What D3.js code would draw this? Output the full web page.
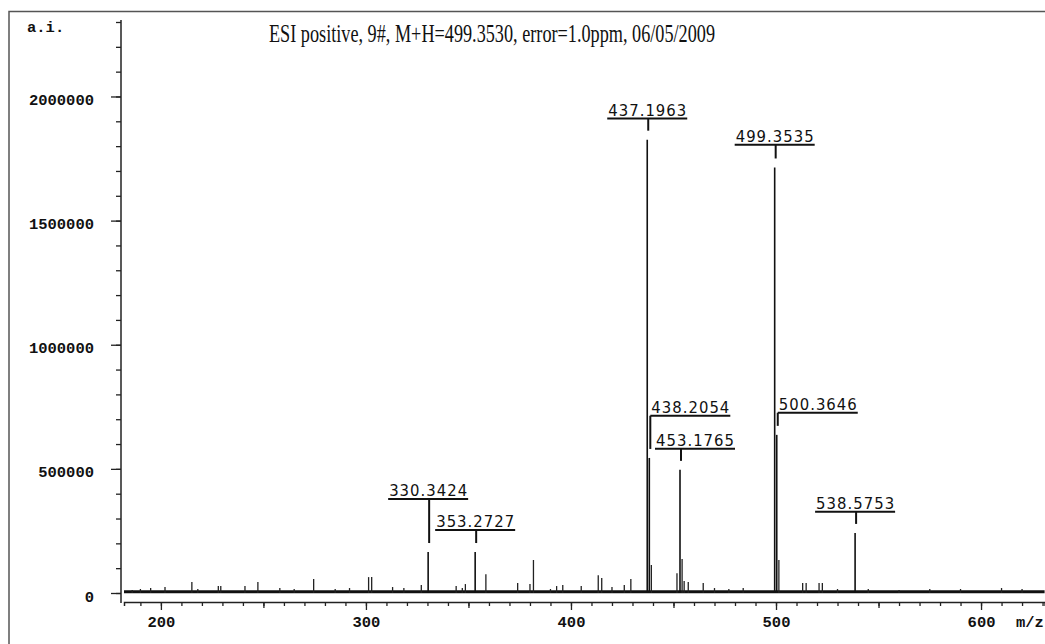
<!DOCTYPE html>
<html>
<head>
<meta charset="utf-8">
<script src="https://cdn.jsdelivr.net/npm/d3@7"></script>
<style>
  body { margin: 0; background: #fff; }
  svg { display: block; }
</style>
</head>
<body>
<svg id="chart"></svg>
<script>
// labelled peaks (m/z, intensity)
const peakMz = [330.3424, 353.2727, 437.1963, 438.2054, 453.1765, 499.3535, 500.3646, 538.5753];
const peakInt = [165000, 165000, 1826000, 544000, 496000, 1714000, 637000, 242000];
// height of each label's underline, in intensity units
const labelLevel = [379000, 254000, 1911000, 714000, 581000, 1806000, 726000, 327000];

// unlabelled small peaks above the noise
const minorMz = [186, 190, 195, 202, 215.1, 218, 228, 229.2, 241, 247.3, 258, 265, 274.5, 285, 292,
  301.3, 302.8, 313, 318.5, 327, 344, 347, 348.5, 358.5, 374, 380, 381.7, 390, 393, 396, 405,
  413.3, 415, 420, 426, 429.2, 439.2, 451.7, 454.2, 455.2, 457.2, 464.5, 470, 477, 484,
  501.4, 513, 514.7, 521, 522.6, 530, 545, 560, 575, 590, 610, 620];
const minorInt = [12000, 16000, 20000, 24000, 44000, 16000, 28000, 28000, 28000, 44000, 20000, 16000, 56000, 16000, 20000,
  64000, 64000, 24000, 20000, 32000, 28000, 20000, 36000, 76000, 40000, 36000, 133000, 16000, 28000, 32000, 28000,
  72000, 60000, 24000, 32000, 56000, 113000, 80000, 137000, 48000, 44000, 40000, 20000, 16000, 20000,
  133000, 40000, 40000, 40000, 40000, 16000, 16000, 12000, 16000, 16000, 20000, 16000];

const yMajor = [0, 500000, 1000000, 1500000, 2000000];
const xMajor = [200, 300, 400, 500, 600];
const title = 'ESI positive, 9#, M+H=499.3530, error=1.0ppm, 06/05/2009';
const noiseLevel = 5000;

const w = 1045, h = 644;
const svg = d3.select('#chart').attr('width', w).attr('height', h);

const x = d3.scaleLinear().domain([182, 631]).range([124, 1044.6]);
const y = d3.scaleLinear().domain([0, 2300000]).range([593, 22]);
const axisX = 121, xAxisY = 602;
const charW = 9.3;

function mono(sel) {
  sel.style('font-family', "'Liberation Mono', 'DejaVu Sans Mono', monospace")
    .style('font-weight', 'bold').style('font-size', '15px').style('fill', '#111')
    .attr('textLength', function () { return this.textContent.length * charW; })
    .attr('lengthAdjust', 'spacingAndGlyphs');
}

// outer frame
svg.append('path')
  .attr('d', `M9,${h} V11.5 H${w}`)
  .attr('fill', 'none').attr('stroke', '#555').attr('stroke-width', 1.5);

// title
svg.append('text')
  .attr('x', 269).attr('y', 42)
  .attr('textLength', 446).attr('lengthAdjust', 'spacingAndGlyphs')
  .style('font-family', "'Liberation Serif', 'DejaVu Serif', serif")
  .style('font-size', '25px').style('fill', '#111')
  .text(title);

// y axis: minor ticks, then major ticks with labels
const yMinor = d3.range(0, 2300001, 100000);
svg.append('g').attr('transform', `translate(${axisX},0)`)
  .call(d3.axisLeft(y).tickValues(yMinor).tickSize(5).tickFormat(''))
  .call(g => g.select('.domain').remove());
const yAx = svg.append('g').attr('transform', `translate(${axisX},0)`)
  .call(d3.axisLeft(y).tickValues(yMajor).tickSize(10).tickPadding(17).tickFormat(d3.format('d')));
yAx.select('.domain').remove();
yAx.selectAll('text').attr('dy', 8).call(mono);
svg.append('line')
  .attr('x1', axisX).attr('x2', axisX).attr('y1', y.range()[1] - 2).attr('y2', xAxisY + 1)
  .attr('stroke', '#222').attr('stroke-width', 1.5);

svg.append('text').attr('x', 27).attr('y', 32).text('a.i.').call(mono);

// x axis
const xMinor = d3.range(190, 631, 10);
const xMid = d3.range(250, 631, 100);
const xg1 = svg.append('g').attr('transform', `translate(0,${xAxisY})`)
  .call(d3.axisBottom(x).tickValues(xMinor).tickSize(4).tickFormat(''));
xg1.select('.domain').attr('stroke', '#222').attr('stroke-width', 1.5);
svg.append('g').attr('transform', `translate(0,${xAxisY})`)
  .call(d3.axisBottom(x).tickValues(xMid).tickSize(6).tickFormat(''))
  .call(g => g.select('.domain').remove());
const xAx = svg.append('g').attr('transform', `translate(0,${xAxisY})`)
  .call(d3.axisBottom(x).tickValues(xMajor).tickSize(8).tickPadding(6).tickFormat(d3.format('d')));
xAx.select('.domain').remove();
xAx.selectAll('text').call(mono);
svg.selectAll('.tick line').attr('stroke', '#222').attr('stroke-width', 1.3);

svg.append('text').attr('x', 1016).attr('y', 627).text('m/z').call(mono);

// baseline noise band
svg.append('line')
  .attr('x1', x.range()[0]).attr('x2', x.range()[1])
  .attr('y1', y(noiseLevel)).attr('y2', y(noiseLevel))
  .attr('stroke', '#111').attr('stroke-width', 3);

// minor peaks
svg.append('g').selectAll('line')
  .data(minorMz.map((m, i) => [m, minorInt[i]]))
  .join('line')
  .attr('x1', d => x(d[0])).attr('x2', d => x(d[0]))
  .attr('y1', y(0)).attr('y2', d => y(d[1]))
  .attr('stroke', '#222').attr('stroke-width', 1.3);

// labelled peaks
const peaks = peakMz.map((m, i) => ({ mz: m, int: peakInt[i], level: labelLevel[i] }));
svg.append('g').selectAll('line')
  .data(peaks)
  .join('line')
  .attr('x1', d => x(d.mz)).attr('x2', d => x(d.mz))
  .attr('y1', y(0)).attr('y2', d => y(d.int))
  .attr('stroke', '#111').attr('stroke-width', 1.6);

// label placement: how far the underline is pushed right of centre
const labelShift = [0, 0, 0, 41, 15, 0, 41, 0];
const labelHalf = 40;
const lab = svg.append('g').selectAll('g')
  .data(peaks)
  .join('g');
lab.append('line')
  .attr('x1', (d, i) => x(d.mz) - labelHalf + labelShift[i])
  .attr('x2', (d, i) => x(d.mz) + labelHalf + labelShift[i])
  .attr('y1', d => y(d.level)).attr('y2', d => y(d.level))
  .attr('stroke', '#111').attr('stroke-width', 2);
lab.append('line')
  .attr('x1', d => x(d.mz) + 1).attr('x2', d => x(d.mz) + 1)
  .attr('y1', d => y(d.level)).attr('y2', d => y(d.int) - 9)
  .attr('stroke', '#111').attr('stroke-width', 2);
lab.append('text')
  .attr('x', (d, i) => x(d.mz) + labelShift[i])
  .attr('y', d => y(d.level) - 3)
  .attr('text-anchor', 'middle')
  .attr('textLength', 78).attr('lengthAdjust', 'spacing')
  .style('font-family', "'DejaVu Sans Condensed', 'DejaVu Sans', sans-serif")
  .style('font-size', '16.5px').style('fill', '#111')
  .text(d => d.mz.toFixed(4));
</script>
</body>
</html>
